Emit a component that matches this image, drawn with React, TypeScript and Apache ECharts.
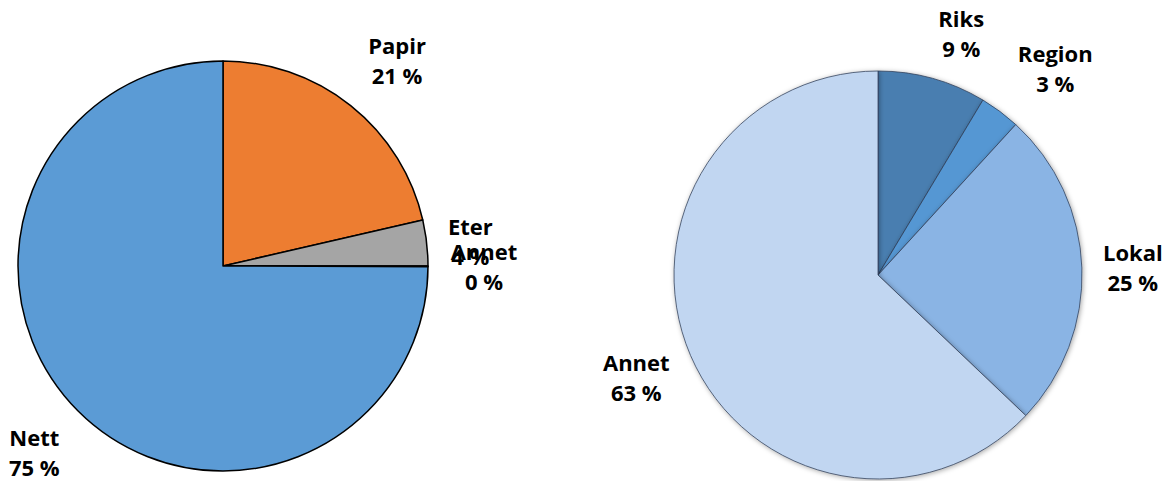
import React, { useEffect, useRef } from "react";
import * as echarts from "echarts";

const leftNames = ["Papir", "Eter", "Annet", "Nett"];
const leftValues = [21.4, 3.6, 0.05, 74.95];
const leftColors = ["#ED7D31", "#A5A5A5", "#FFC000", "#5B9BD5"];

const rightNames = ["Riks", "Region", "Lokal", "Annet"];
const rightValues = [8.6, 3.2, 25.3, 62.9];
const rightColors = ["#4A7EB0", "#5597D3", "#8AB4E4", "#C1D6F1"];

// small label position nudges (px), per data index
const leftNudges = [[9, 1], [-16, 5], [-4, 0], [-1, -1]];
const rightNudges = [[13, 11], [20, 4], [-8, 1], [0, -2]];

const labelStyle = {
  show: true,
  position: "inside" as const,
  formatter: (p: any) => `${p.name}\n${Math.round(p.value)} %`,
  fontFamily: "Open Sans",
  fontWeight: "bold" as const,
  fontSize: 22,
  lineHeight: 30,
  color: "#000",
};

export default function App() {
  const ref = useRef<HTMLDivElement>(null);
  useEffect(() => {
    if (!ref.current) return;
    const chart = echarts.init(ref.current, null, { renderer: "svg" });
    const mk = (names: string[], values: number[], colors?: string[]) =>
      names.map((n, i) => ({
        name: n,
        value: values[i],
        itemStyle: colors ? { color: colors[i] } : undefined,
      }));
    const nudge = (arr: number[][]) => (params: any) => {
      const d = arr[params.dataIndex] || [0, 0];
      return { dx: d[0], dy: d[1] };
    };
    chart.setOption({
      animation: false,
      backgroundColor: "#fff",
      series: [
        {
          type: "pie",
          center: [223, 266],
          radius: [0, 205],
          startAngle: 90,
          clockwise: true,
          silent: true,
          label: { show: false },
          labelLine: { show: false },
          itemStyle: { borderColor: "#000", borderWidth: 1.5 },
          data: mk(leftNames, leftValues, leftColors),
        },
        {
          type: "pie",
          center: [223, 266],
          radius: [0, 524],
          startAngle: 90,
          silent: true,
          z: 5,
          label: labelStyle,
          labelLine: { show: false },
          labelLayout: nudge(leftNudges),
          itemStyle: { color: "rgba(0,0,0,0)", borderWidth: 0 },
          data: mk(leftNames, leftValues),
        },
        {
          type: "pie",
          center: [878, 275],
          radius: [0, 204],
          startAngle: 90,
          clockwise: true,
          silent: true,
          label: { show: false },
          labelLine: { show: false },
          itemStyle: {
            borderColor: "rgba(45,60,85,0.75)",
            borderWidth: 1,
            shadowBlur: 5,
            shadowColor: "rgba(0,0,0,0.35)",
            shadowOffsetX: 1,
            shadowOffsetY: 1,
          },
          data: mk(rightNames, rightValues, rightColors),
        },
        {
          type: "pie",
          center: [878, 275],
          radius: [0, 520],
          startAngle: 90,
          silent: true,
          z: 5,
          label: labelStyle,
          labelLine: { show: false },
          labelLayout: nudge(rightNudges),
          itemStyle: { color: "rgba(0,0,0,0)", borderWidth: 0 },
          data: mk(rightNames, rightValues),
        },
      ],
    });
    return () => chart.dispose();
  }, []);
  return (
    <div
      ref={ref}
      style={{ position: "fixed", left: 0, top: 0, width: 1171, height: 481 }}
    />
  );
}
